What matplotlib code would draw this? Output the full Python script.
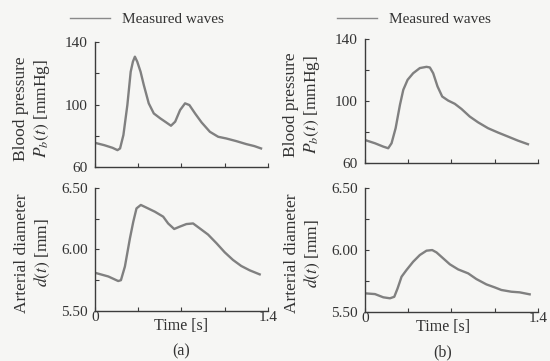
import matplotlib
matplotlib.use("Agg")
import matplotlib.pyplot as plt

plt.rcParams["font.family"] = ["Liberation Serif", "DejaVu Serif"]
plt.rcParams["mathtext.fontset"] = "stix"

# ------------------------------------------------------------
# data (time in s)
# ------------------------------------------------------------
# (a) blood pressure
t_pa = [0.0, 0.075, 0.142, 0.182, 0.203, 0.23, 0.262, 0.289, 0.307, 0.323,
        0.342, 0.369, 0.395, 0.435, 0.476, 0.529, 0.577, 0.615, 0.649, 0.689,
        0.729, 0.764, 0.81, 0.863, 0.93, 0.997, 1.063, 1.144, 1.224, 1.29, 1.344]
p_a = [75.4, 73.9, 72.2, 70.7, 71.8, 80.4, 99.7, 121.1, 127.6, 130.8,
       127.6, 121.1, 112.6, 100.8, 94.3, 91.1, 88.5, 86.4, 89.0, 96.5,
       100.8, 99.7, 94.3, 88.5, 82.5, 79.3, 78.2, 76.5, 74.6, 73.3, 71.8]

# (a) arterial diameter
t_da = [0.0, 0.108, 0.188, 0.21, 0.242, 0.283, 0.31, 0.336, 0.371, 0.417,
        0.485, 0.552, 0.592, 0.641, 0.686, 0.74, 0.794, 0.848, 0.915, 0.983,
        1.05, 1.117, 1.184, 1.252, 1.333]
d_a = [5.81, 5.78, 5.743, 5.75, 5.86, 6.09, 6.224, 6.332, 6.36, 6.338,
       6.305, 6.265, 6.21, 6.165, 6.184, 6.205, 6.21, 6.17, 6.12, 6.05,
       5.976, 5.914, 5.865, 5.83, 5.797]

# (b) blood pressure
t_pb = [0.0, 0.081, 0.148, 0.188, 0.215, 0.248, 0.283, 0.31, 0.345, 0.39,
        0.444, 0.498, 0.525, 0.552, 0.587, 0.625, 0.673, 0.727, 0.781, 0.848,
        0.915, 0.996, 1.077, 1.158, 1.238, 1.319]
p_b = [75.0, 72.9, 70.75, 69.7, 72.9, 82.6, 97.6, 107.3, 113.75, 118.0,
       121.3, 122.1, 121.7, 118.0, 109.5, 103.0, 100.4, 98.3, 95.0, 90.1,
       86.4, 82.6, 79.8, 77.2, 74.6, 72.3]

# (b) arterial diameter
t_db = [0.0, 0.081, 0.148, 0.202, 0.237, 0.264, 0.296, 0.336, 0.39, 0.444,
        0.498, 0.544, 0.579, 0.633, 0.687, 0.754, 0.835, 0.902, 0.983, 1.05,
        1.104, 1.185, 1.252, 1.333]
d_b = [5.648, 5.642, 5.616, 5.608, 5.62, 5.688, 5.782, 5.836, 5.903, 5.957,
       5.992, 5.997, 5.978, 5.93, 5.882, 5.841, 5.809, 5.763, 5.72, 5.696,
       5.675, 5.661, 5.656, 5.64]

x_ticks = [0, 0.35, 0.7, 1.05, 1.4]
x_ticklabels = ["0", "", "", "", "1.4"]
p_ticks = [60, 80, 100, 120, 140]
p_ticklabels = ["60", "", "100", "", "140"]
d_ticks = [5.50, 5.75, 6.00, 6.25, 6.50]
d_ticklabels = ["5.50", "", "6.00", "", "6.50"]

LINE_C = "#808080"
AXIS_C = "#3c3c3c"
TEXT_C = "#333333"
BG = "#f6f6f4"

fig = plt.figure(figsize=(5.5, 3.61), dpi=100, facecolor=BG)

ax_pa = fig.add_axes([0.1727, 0.538, 0.3145, 0.3446])
ax_da = fig.add_axes([0.1727, 0.1385, 0.3145, 0.3416])
ax_pb = fig.add_axes([0.6636, 0.5476, 0.3145, 0.3443])
ax_db = fig.add_axes([0.6636, 0.1366, 0.3145, 0.3435])


def style(ax, yticks, ylabels, bottom_labels):
    ax.set_facecolor(BG)
    for s in ["top", "right"]:
        ax.spines[s].set_visible(False)
    for s in ["left", "bottom"]:
        ax.spines[s].set_color(AXIS_C)
        ax.spines[s].set_linewidth(1.0)
    ax.set_xlim(0, 1.4)
    ax.set_ylim(yticks[0], yticks[-1])
    ax.set_xticks(x_ticks)
    ax.set_xticklabels(x_ticklabels if bottom_labels else [""] * len(x_ticks))
    ax.set_yticks(yticks)
    ax.set_yticklabels(ylabels)
    ax.tick_params(direction="in", length=3, width=0.8, color=AXIS_C,
                   labelsize=11, labelcolor=TEXT_C)
    ax.tick_params(axis="y", pad=5)
    ax.tick_params(axis="x", pad=0)


# (a)
ax_pa.plot(t_pa, p_a, color=LINE_C, lw=1.7, label="Measured waves")
style(ax_pa, p_ticks, p_ticklabels, False)
ax_pa.set_ylabel("Blood pressure\n$P_b(t)$ [mmHg]", fontsize=12.5, color=TEXT_C)
ax_pa.yaxis.set_label_coords(-0.25, 0.47)

ax_da.plot(t_da, d_a, color=LINE_C, lw=1.7)
style(ax_da, d_ticks, d_ticklabels, True)
ax_da.set_ylabel("Arterial diameter\n$d(t)$ [mm]", fontsize=12.5, color=TEXT_C)
ax_da.yaxis.set_label_coords(-0.25, 0.47)
ax_da.set_xlabel("Time [s]", fontsize=11.5, color=TEXT_C)
ax_da.xaxis.set_label_coords(0.497, -0.06)
ax_da.text(0.497, -0.33, "(a)", transform=ax_da.transAxes, ha="center",
           va="center", fontsize=11.5, color=TEXT_C)

# (b)
ax_pb.plot(t_pb, p_b, color=LINE_C, lw=1.7, label="Measured waves")
style(ax_pb, p_ticks, p_ticklabels, False)
ax_pb.set_ylabel("Blood pressure\n$P_b(t)$ [mmHg]", fontsize=12.5, color=TEXT_C)
ax_pb.yaxis.set_label_coords(-0.25, 0.47)

ax_db.plot(t_db, d_b, color=LINE_C, lw=1.7)
style(ax_db, d_ticks, d_ticklabels, True)
ax_db.set_ylabel("Arterial diameter\n$d(t)$ [mm]", fontsize=12.5, color=TEXT_C)
ax_db.yaxis.set_label_coords(-0.25, 0.47)
ax_db.set_xlabel("Time [s]", fontsize=11.5, color=TEXT_C)
ax_db.xaxis.set_label_coords(0.451, -0.06)
ax_db.text(0.451, -0.33, "(b)", transform=ax_db.transAxes, ha="center",
           va="center", fontsize=11.5, color=TEXT_C)

# legends above top panels
for ax, x0, y0 in [(ax_pa, -0.145, 1.187), (ax_pb, -0.162, 1.161)]:
    leg = ax.legend(loc="center left", bbox_to_anchor=(x0, y0), frameon=False,
                    fontsize=11, handlelength=2.6, handletextpad=0.8,
                    borderpad=0, borderaxespad=0)
    for txt in leg.get_texts():
        txt.set_color(TEXT_C)
    leg.get_lines()[0].set_linewidth(1.0)
    leg.get_lines()[0].set_color("#8a8a8a")

fig.savefig("out.png", dpi=100, facecolor=BG)
